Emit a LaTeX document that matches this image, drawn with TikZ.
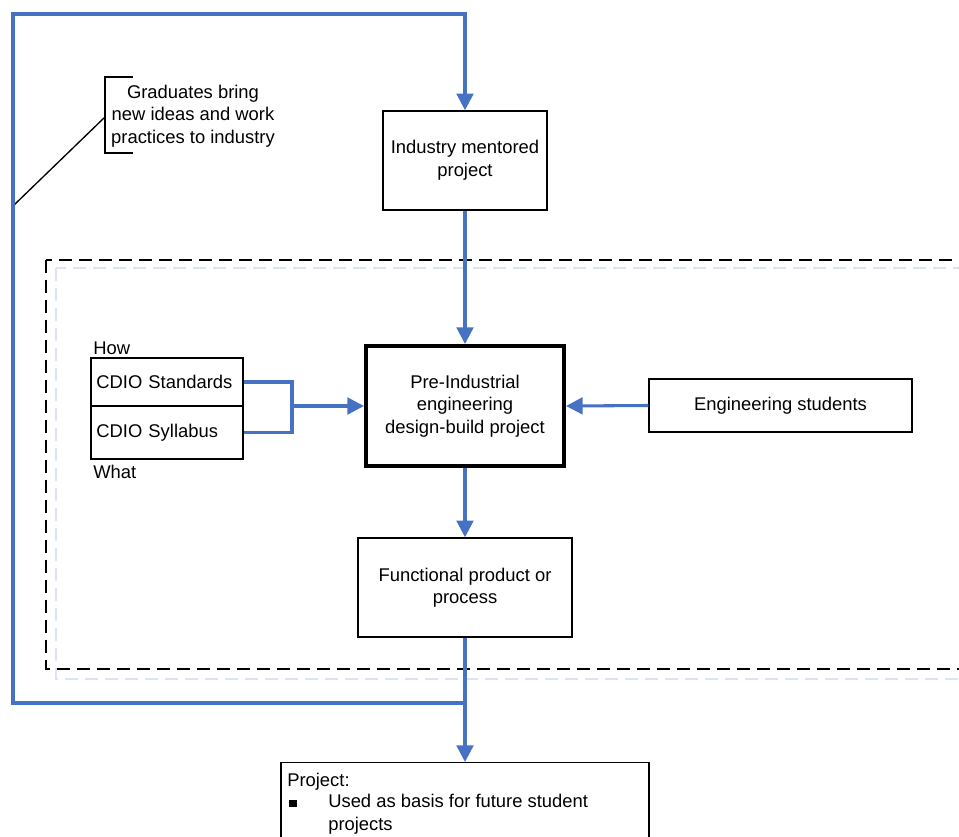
\documentclass[tikz,border=0pt]{standalone}
\usepackage{fontspec}
\setmainfont{Liberation Sans}
\usetikzlibrary{arrows.meta}
\definecolor{flow}{RGB}{70,114,196}
\definecolor{lightdash}{RGB}{218,228,242}
\begin{document}
\begin{tikzpicture}[x=0.75pt,y=-0.75pt,
  font=\fontsize{13.8}{16.9}\selectfont,
  box/.style={draw, line width=1.1pt, align=center, inner sep=0pt},
  flowline/.style={draw=flow, line width=2.3pt},
  flowarrow/.style={flowline, -{Triangle[width=12.5pt,length=12.5pt]}},
  lbl/.style={inner sep=0pt}]
\useasboundingbox (0,0) rectangle (959,836);
\clip (0,0) rectangle (959,836);
% dashed frames
\draw[lightdash, line width=1.5pt, dash pattern=on 10pt off 5pt] (56,268) rectangle (1000,679);
\draw[black, line width=1.5pt, dash pattern=on 10pt off 5pt] (46,260) rectangle (1000,669);
% boxes
\node[box, minimum width=123pt, minimum height=74.25pt] (ind) at (465,160.5) {Industry mentored\\project};
\node[box, line width=3pt, minimum width=148.5pt, minimum height=90pt] (pre) at (465,406) {Pre-Industrial\\engineering\\design-build project};
\node[box, minimum width=197.25pt, minimum height=39.75pt] (eng) at (780.5,405.5) {Engineering students};
\node[box, minimum width=114pt, minimum height=36pt, align=left, text width=106pt] (std) at (167,382) {CDIO Standards};
\node[box, minimum width=114pt, minimum height=39.75pt, align=left, text width=106pt] (syl) at (167,432.5) {CDIO Syllabus};
\node[box, minimum width=160.5pt, minimum height=74.25pt] (func) at (465,587.5) {Functional product or\\process};
\node[box, anchor=north, minimum width=276pt, minimum height=90pt] (bot) at (465,762) {};
% labels
\node[lbl, anchor=west] (how) at (93,348) {How};
\node[lbl, anchor=west] (what) at (93,472) {What};
\node[lbl, anchor=base west] (proj) at (287,786) {Project:};
\node[lbl, anchor=base west] (bul) at (289,807) {\rule{5.5pt}{5.5pt}};
\node[lbl, anchor=base west, align=left] (item) at (328,830) {Used as basis for future student\\projects};
\node[lbl, align=center] (grad) at (193,116) {Graduates bring\\new ideas and work\\practices to industry};
% callout bracket
\draw[line width=1pt] (133,77) -- (105,77) -- (105,153) -- (133,153);
\coordinate (cl) at (13,206);
\coordinate (br) at (105,117);
\draw[line width=1pt] (br) -- (cl);
% connectors
\coordinate (j) at (465,703);
\coordinate (m) at (292,406);
\draw[flowarrow] (ind.south) -- (pre.north);
\draw[flowarrow] (eng.west) -- (pre.east);
\draw[flowline] (std.east) -| (m) |- (syl.east);
\draw[flowarrow] (m) -- (pre.west);
\draw[flowarrow] (pre.south) -- (func.north);
\draw[flowarrow] (func.south) -- (bot.north);
\draw[flowarrow] (j) -- (13,703) -- (13,14) -- (465,14) -- (ind.north);
\end{tikzpicture}
\end{document}
